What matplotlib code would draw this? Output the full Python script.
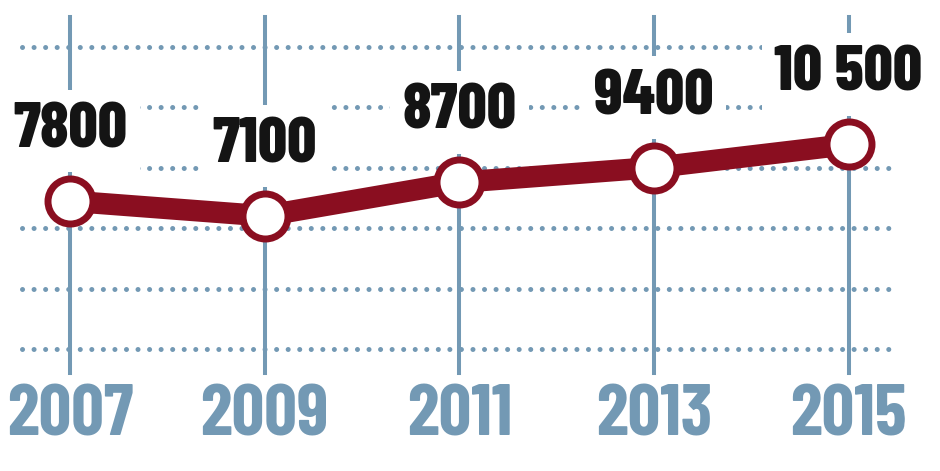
import numpy as np
import matplotlib
matplotlib.use("Agg")
import matplotlib.pyplot as plt

years = [2007, 2009, 2011, 2013, 2015]
values = [7800, 7100, 8700, 9400, 10500]
labels = ["7800", "7100", "8700", "9400", "10 500"]

red = "#8a0e20"
blue = "#7399b4"
font = ["Barlow Condensed", "DejaVu Sans"]

fig = plt.figure(figsize=(9.4, 4.71), dpi=100)
ax = fig.add_axes([0, 0, 1, 1])
ax.set_xlim(2006.28, 2015.94)
ax.set_ylim(-5050, 17380)
ax.axis("off")

# dotted horizontal guides (decorative, fixed spacing)
for k in range(6):
    yf = 1 - (47 + k * 60.4) / 471
    ax.plot([0.023, 0.947], [yf, yf], transform=ax.transAxes, color=blue,
            lw=3.6, linestyle=(0, (0.01, 2.3)), dash_capstyle="round", zorder=1)

# vertical year lines
for yr in years:
    ax.axvline(yr, ymin=1 - 373 / 471, ymax=1 - 17 / 471, color=blue, lw=2.9, zorder=1)

ax.plot(years, values, color=red, lw=15.5, solid_capstyle="round", zorder=3,
        marker="o", ms=32.4, mfc="white", mec=red, mew=5)

for yr, v, lab in zip(years, values, labels):
    ax.annotate(lab, (yr, v), xytext=(0, 70), textcoords="offset pixels",
                ha="center", va="center", fontsize=46, fontweight=800,
                family=font, color="#141414",
                bbox=dict(boxstyle="square,pad=0.2", fc="white", ec="none"), zorder=4)

for yr in years:
    ax.text(yr, 1 - 417 / 471, str(yr), transform=ax.get_xaxis_transform(),
            ha="center", va="center", fontsize=52, fontweight=700,
            family=font, color=blue)

plt.savefig("out.png", dpi=100)
